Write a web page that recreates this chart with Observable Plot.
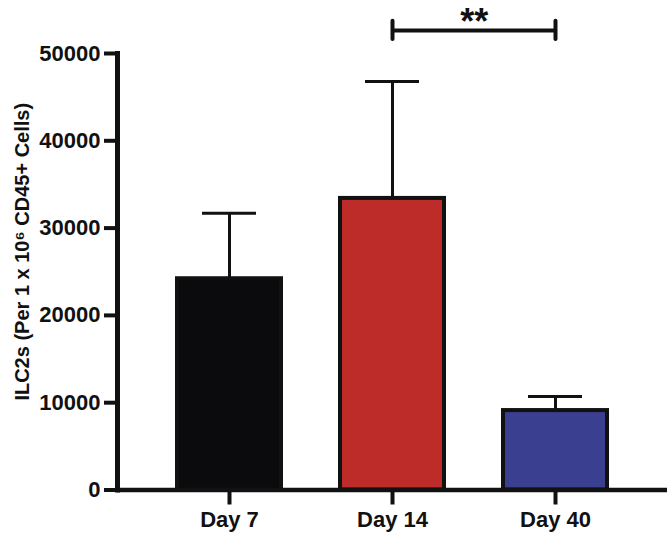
<!DOCTYPE html>
<html>
<head>
<meta charset="utf-8">
<script src="https://cdn.jsdelivr.net/npm/d3@7"></script>
<script src="https://cdn.jsdelivr.net/npm/@observablehq/plot@0.6"></script>
<style>
  html, body { margin: 0; padding: 0; background: #fff; overflow: hidden; }
  #chart svg { display: block; }
  g[aria-label="ytitle"] text { letter-spacing: 1.4px; }
</style>
</head>
<body>
<div id="chart"></div>
<script>
// ---- data ----
const days = ["Day 7", "Day 14", "Day 40"];
const means = [24200, 33400, 9100];
const errTops = [31700, 46800, 10700];
const barColors = ["#0b0b0d", "#bd2c29", "#3b3f8f"];
const yTicks = [0, 10000, 20000, 30000, 40000, 50000];
const sigFrom = "Day 14";
const sigTo = "Day 40";
const sigLabel = "**";
const yTitle = "ILC2s (Per 1 x 10\u2076 CD45+ Cells)";

const rows = days.map((d, i) => ({day: d, mean: means[i], top: errTops[i], color: barColors[i]}));

const W = 667, H = 534;
const mL = 117, mR = 0, mT = 53, mB = 44.5;
const pad = 0.36;
const step = (W - mL - mR) / (days.length + pad);
const font = "'Liberation Sans', Arial, Helvetica, sans-serif";
const ink = "#111";

const bracketY = 52630, bracketLo = 51600, bracketHi = 53700, starY = 52230;

const chart = Plot.plot({
  width: W,
  height: H,
  marginLeft: mL,
  marginRight: mR,
  marginTop: mT,
  marginBottom: mB,
  style: {fontFamily: font, background: "#fff", overflow: "visible"},
  x: {domain: days, padding: pad, label: null},
  y: {domain: [0, 50000], label: null},
  marks: [
    // error bars
    Plot.ruleX(rows, {x: "day", y1: "mean", y2: "top", stroke: ink, strokeWidth: 3}),
    Plot.tickY(rows, {x: "day", y: "top", stroke: ink, strokeWidth: 3, insetLeft: 25, insetRight: 25}),
    // bars
    Plot.barY(rows, {x: "day", y: "mean", fill: "color", stroke: ink, strokeWidth: 4}),
    // axes
    Plot.axisY({ticks: yTicks, tickFormat: d => String(d), tickSize: 13, tickPadding: 4,
      strokeWidth: 4, color: ink, fontSize: 22, fontWeight: "bold", label: null}),
    Plot.axisX({tickSize: 15, tickPadding: 6, strokeWidth: 4, color: ink,
      fontSize: 22, fontWeight: "bold", label: null}),
    Plot.frame({anchor: "left", stroke: ink, strokeWidth: 5}),
    Plot.ruleY([0], {stroke: ink, strokeWidth: 4.5}),
    // significance bracket
    Plot.link([{a: sigFrom, b: sigTo}], {x1: "a", x2: "b", y1: () => bracketY, y2: () => bracketY,
      stroke: ink, strokeWidth: 4}),
    Plot.ruleX([sigFrom, sigTo], {x: d => d, y1: bracketLo, y2: bracketHi, stroke: ink, strokeWidth: 4, strokeLinecap: "round"}),
    Plot.text([{a: sigFrom, t: sigLabel}], {x: "a", y: () => starY, text: "t", dx: step / 2,
      lineAnchor: "bottom", fontSize: 36, fontWeight: "bold", fill: ink}),
    // y title
    Plot.text([yTitle], {frameAnchor: "left", text: d => d, rotate: -90, dx: -89, dy: -20,
      textAnchor: "middle", lineAnchor: "bottom", fontSize: 20, fontWeight: "bold", fill: ink, ariaLabel: "ytitle"})
  ]
});
document.getElementById("chart").appendChild(chart);
</script>
</body>
</html>
